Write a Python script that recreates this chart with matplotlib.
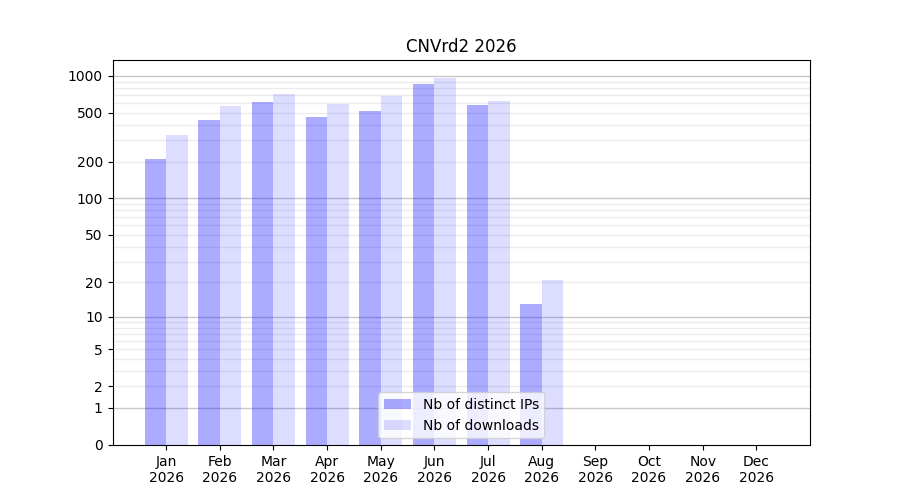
import numpy as np
import matplotlib
matplotlib.use("Agg")
import matplotlib.pyplot as plt
from matplotlib.ticker import FixedLocator

MONTHS = ["Jan", "Feb", "Mar", "Apr", "May", "Jun",
          "Jul", "Aug", "Sep", "Oct", "Nov", "Dec"]
YEAR = "2026"
DISTINCT_IPS = [210, 438, 614, 463, 519, 860, 580, 13, 0, 0, 0, 0]
DOWNLOADS = [331, 570, 714, 595, 691, 963, 626, 21, 0, 0, 0, 0]
Y_TICKS = [0, 1, 2, 5, 10, 20, 50, 100, 200, 500, 1000]


def forward(v):
    return np.log10(np.asarray(v, dtype=float) + 1)


def inverse(v):
    return 10 ** np.asarray(v, dtype=float) - 1


def main():
    fig, ax = plt.subplots(figsize=(9, 5), dpi=100)
    x = np.arange(len(MONTHS))
    width = 0.4

    ax.bar(x - width / 2, DISTINCT_IPS, width, color="blue", alpha=0.33,
           label="Nb of distinct IPs")
    ax.bar(x + width / 2, DOWNLOADS, width, color="blue", alpha=0.135,
           label="Nb of downloads")

    ax.set_yscale("function", functions=(forward, inverse))
    ax.set_ylim(0, max(DOWNLOADS) * 1.4)
    ax.set_xlim(-1, len(MONTHS))

    ax.yaxis.set_major_locator(FixedLocator(Y_TICKS))
    ax.set_yticklabels([str(t) for t in Y_TICKS])

    # grid: darker lines at decades, light lines at 2..9 multiples
    ymax = ax.get_ylim()[1]
    for d in [1, 10, 100, 1000]:
        ax.axhline(d, color="#c8c8c8", linewidth=1, zorder=0.5)
        for m in range(2, 10):
            v = d * m
            if v < ymax:
                ax.axhline(v, color="#ececec", linewidth=1, zorder=0.5)

    ax.set_xticks(x)
    ax.set_xticklabels([f"{m}\n{YEAR}" for m in MONTHS])
    ax.set_title("CNVrd2 2026")
    ax.legend(loc="lower center")

    fig.savefig("out.png")


if __name__ == "__main__":
    main()
